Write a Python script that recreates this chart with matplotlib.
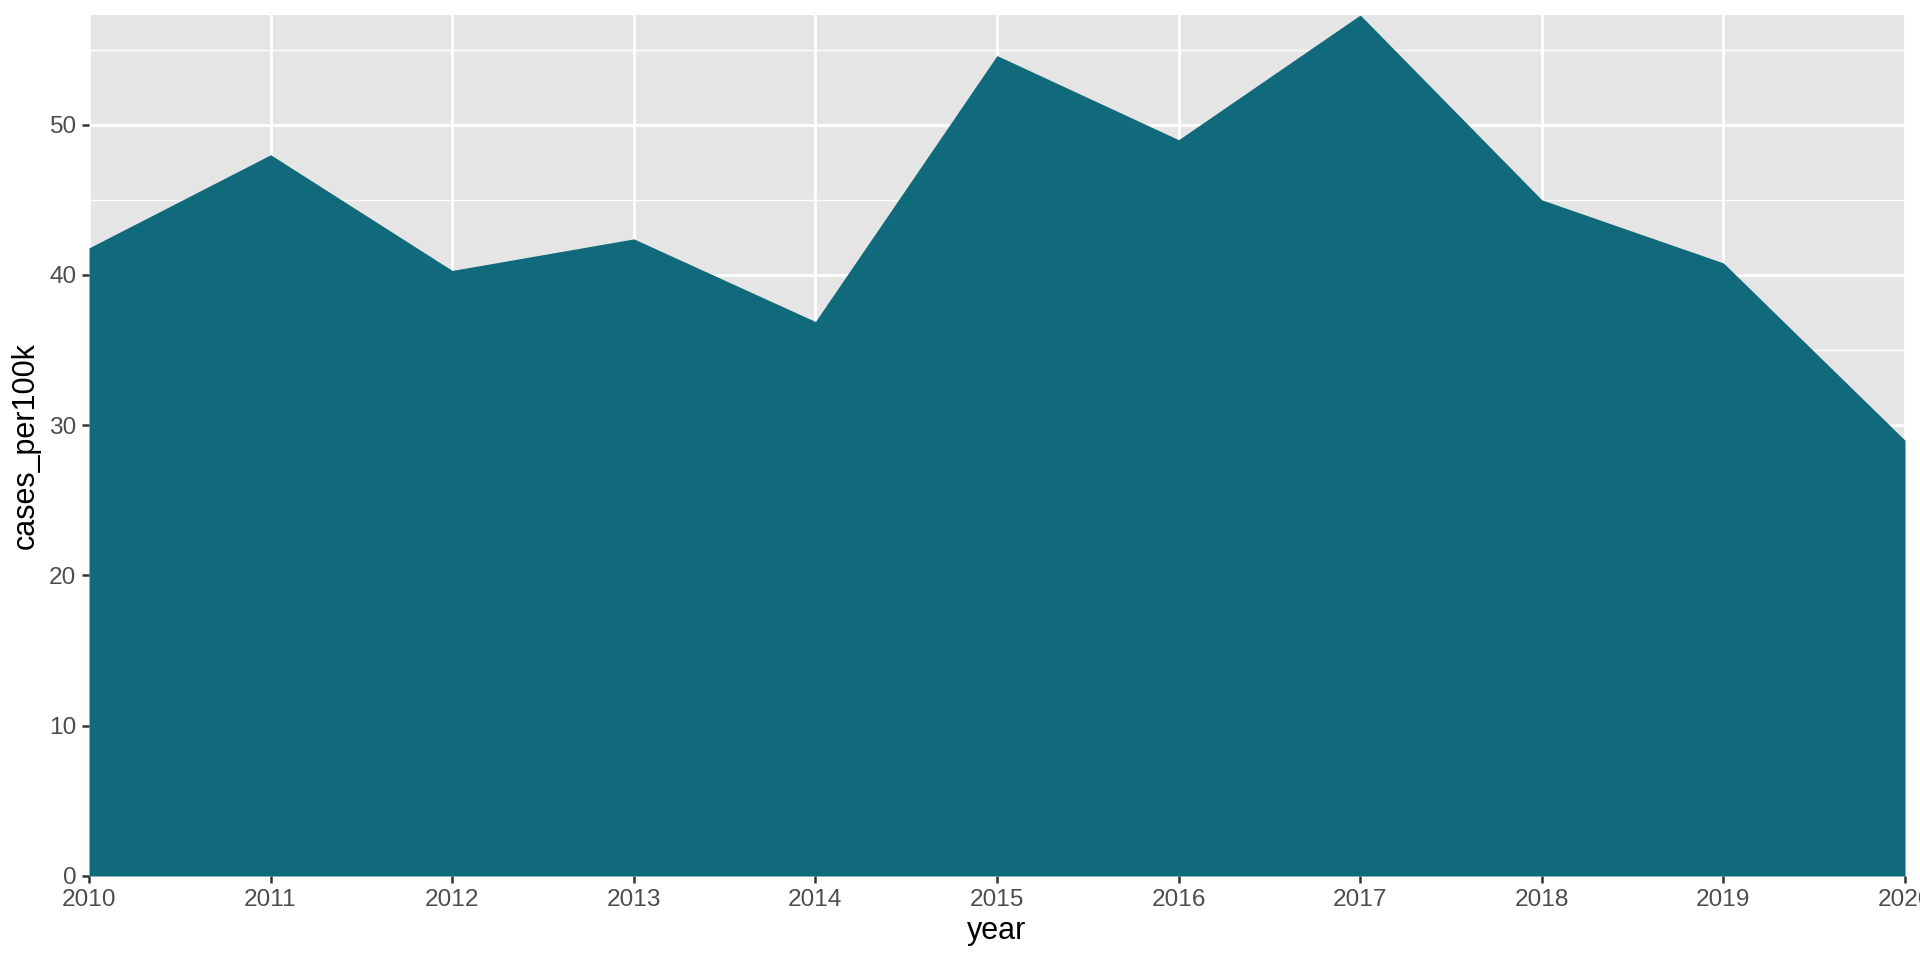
import matplotlib
matplotlib.use("Agg")
import matplotlib.pyplot as plt
from matplotlib.ticker import MultipleLocator

# Data
years = [2010, 2011, 2012, 2013, 2014, 2015, 2016, 2017, 2018, 2019, 2020]
cases_per100k = [41.8, 48.0, 40.3, 42.4, 36.9, 54.6, 49.0, 57.3, 45.0, 40.8, 29.0]

fill_color = "#106A7B"
panel_bg = "#E5E5E5"

plt.rcParams["font.family"] = ["Liberation Sans", "DejaVu Sans"]

fig = plt.figure(figsize=(9.6, 4.8), dpi=200)
ax = fig.add_axes([89 / 1920, 84 / 960, (1905 - 89) / 1920, (876 - 15) / 960])
ax.set_facecolor(panel_bg)

# Area under the line
ax.fill_between(years, 0, cases_per100k, color=fill_color, linewidth=0, zorder=3)

ax.set_xlim(min(years), max(years))
ax.set_ylim(0, max(cases_per100k))
ax.set_xticks(years)
ax.yaxis.set_major_locator(MultipleLocator(10))
ax.yaxis.set_minor_locator(MultipleLocator(5))

# ggplot-like grid
ax.grid(which="major", color="white", linewidth=1.0, zorder=1)
ax.grid(which="minor", axis="y", color="white", linewidth=0.5, zorder=1)
ax.set_axisbelow(True)

for s in ax.spines.values():
    s.set_visible(False)

ax.tick_params(which="major", length=2.6, width=0.9, color="#333333",
               labelsize=8.8, labelcolor="#4D4D4D", pad=2)
ax.tick_params(which="minor", length=0)

ax.set_xlabel("year", fontsize=11, color="black", labelpad=2)
ax.set_ylabel("cases_per100k", fontsize=11, color="black", labelpad=3)

fig.savefig("out.png", dpi=200, facecolor="white")
